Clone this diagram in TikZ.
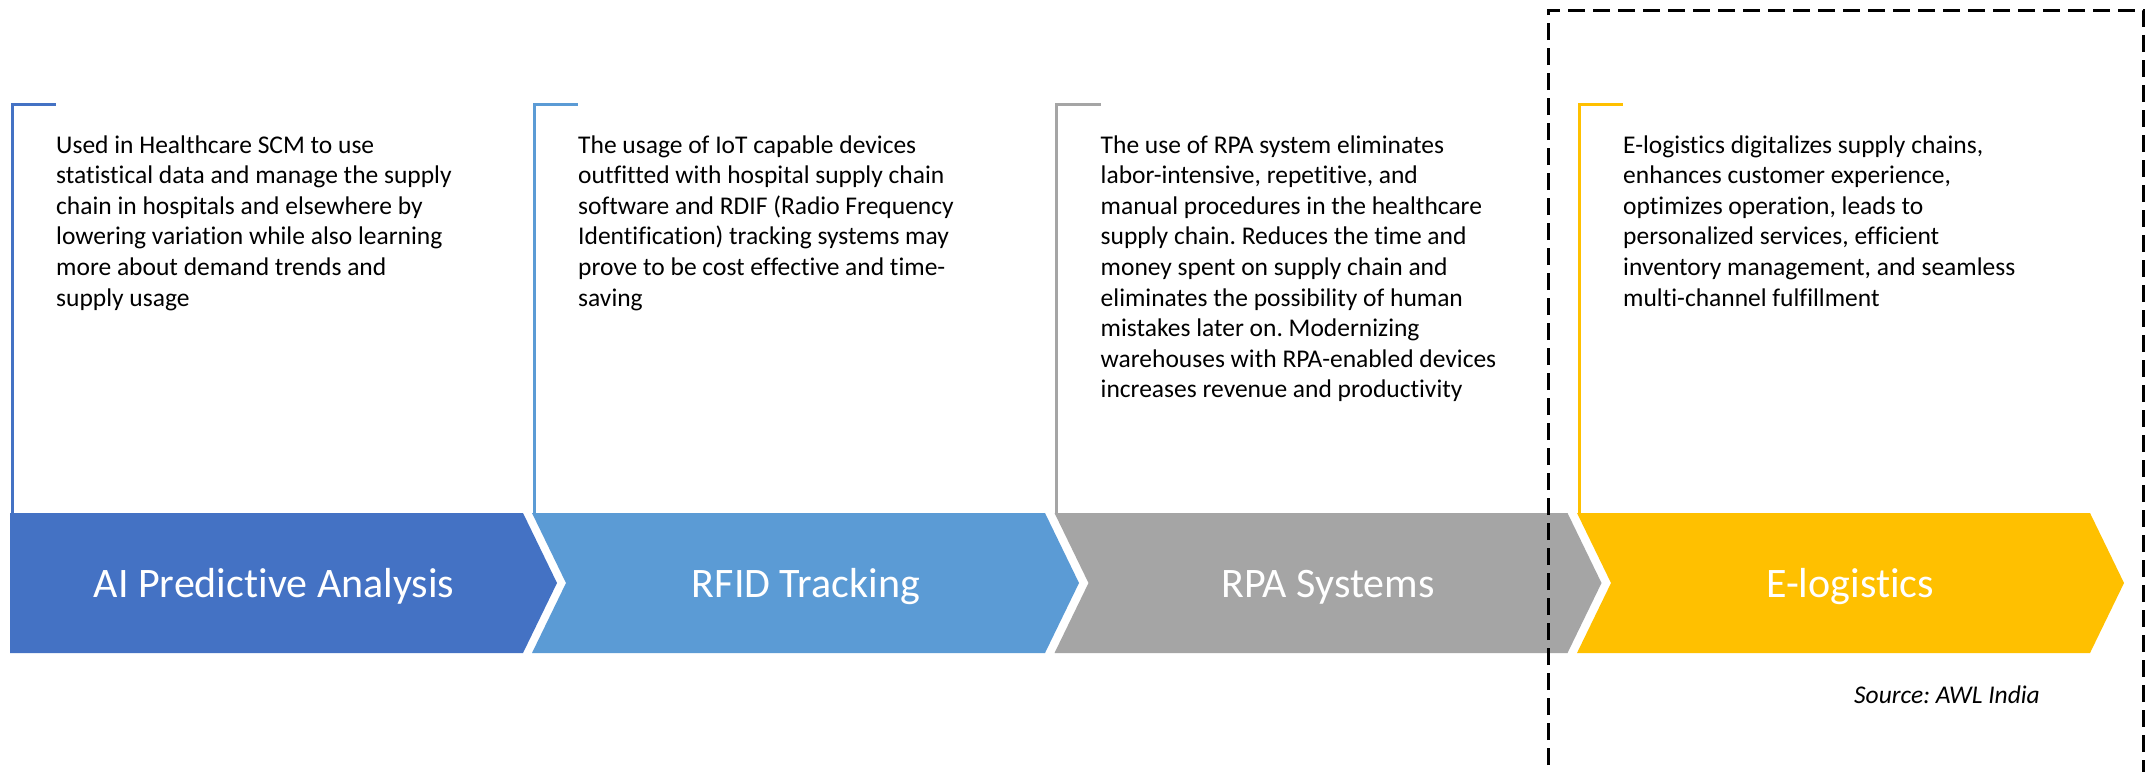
\documentclass[tikz,border=0pt]{standalone}
\usepackage{fontspec}
\setmainfont[Ligatures={NoCommon,NoContextual}]{Carlito}
\frenchspacing
\definecolor{cA}{HTML}{4472C4}
\definecolor{cB}{HTML}{5B9BD5}
\definecolor{cC}{HTML}{A5A5A5}
\definecolor{cD}{HTML}{FFC000}
\newcommand\mybody{\fontsize{25.5}{30.6}\selectfont}
\tikzset{
  lab/.style={anchor=base, inner sep=0pt, text=white, font=\fontsize{42}{50}\selectfont},
  desc/.style={anchor=base west, inner sep=0pt},
  brk/.style={line width=3pt},
}
\begin{document}
\begin{tikzpicture}[x=1pt,y=-1pt]
\useasboundingbox[fill=white] (0,0) rectangle (2147,771);
% chevrons
\fill[cA] (10,513) -- (523,513) -- (557,583) -- (523,653) -- (10,653) -- cycle;
\fill[cB] (532,513) -- (1045,513) -- (1079,583) -- (1045,653) -- (532,653) -- (566,583) -- cycle;
\fill[cC] (1054.5,513) -- (1567.5,513) -- (1601.5,583) -- (1567.5,653) -- (1054.5,653) -- (1088.5,583) -- cycle;
\fill[cD] (1577,513) -- (2090,513) -- (2124,583) -- (2090,653) -- (1577,653) -- (1611,583) -- cycle;
% brackets
\draw[brk,cA] (12,513) -- (12,104) -- (56,104);
\draw[brk,cB] (534,513) -- (534,104) -- (578,104);
\draw[brk,cC] (1056.5,513) -- (1056.5,104) -- (1100.5,104);
\draw[brk,cD] (1579,513) -- (1579,104) -- (1623,104);
% labels
\node[lab] (l1) at (274,597) {AI Predictive Analysis};
\node[lab] (l2) at (806,597) {RFID Tracking};
\node[lab] (l3) at (1328,597) {RPA Systems};
\node[lab] (l4) at (1850,597) {E-logistics};
% descriptions
\node[desc] (t1) at (56,153) {\parbox[t]{520pt}{\mybody Used in Healthcare SCM to use\\statistical data and manage the supply\\chain in hospitals and elsewhere by\\lowering variation while also learning\\more about demand trends and\\supply usage}};
\node[desc] (t2) at (578,153) {\parbox[t]{520pt}{\mybody The usage of IoT capable devices\\outfitted with hospital supply chain\\software and RDIF (Radio Frequency\\Identification) tracking systems may\\prove to be cost effective and time-\\saving}};
\node[desc] (t3) at (1100.5,153) {\parbox[t]{520pt}{\mybody The use of RPA system eliminates\\labor-intensive, repetitive, and\\manual procedures in the healthcare\\supply chain. Reduces the time and\\money spent on supply chain and\\eliminates the possibility of human\\mistakes later on. Modernizing\\warehouses with RPA-enabled devices\\increases revenue and productivity}};
\node[desc] (t4) at (1623,153) {\parbox[t]{520pt}{\mybody E-logistics digitalizes supply chains,\\enhances customer experience,\\optimizes operation, leads to\\personalized services, efficient\\inventory management, and seamless\\multi-channel fulfillment}};
% source
\node[anchor=base, inner sep=0pt, font=\mybody\itshape] (src) at (1947,703) {Source: AWL India};
% dashed frame
\draw[line width=3pt, dash pattern=on 17pt off 8pt] (1548,790) -- (1548,10) -- (2143,10) -- (2143,790);
\end{tikzpicture}
\end{document}
